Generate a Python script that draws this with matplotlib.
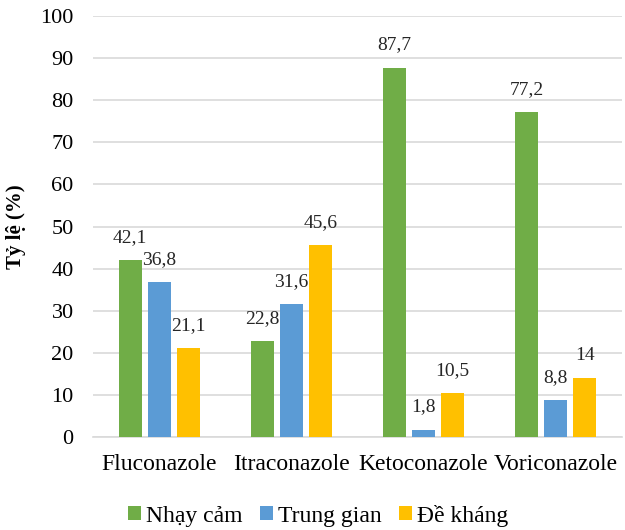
import numpy as np
import matplotlib.pyplot as plt

plt.rcParams["font.family"] = ["Liberation Serif", "DejaVu Serif"]

drugs = ["Fluconazole", "Itraconazole", "Ketoconazole", "Voriconazole"]
series_names = ["Nhạy cảm", "Trung gian", "Đề kháng"]
nhay_cam = [42.1, 22.8, 87.7, 77.2]
trung_gian = [36.8, 31.6, 1.8, 8.8]
de_khang = [21.1, 45.6, 10.5, 14]
colors = ["#70AD47", "#5B9BD5", "#FFC000"]


def fmt_vn(v):
    s = f"{v:g}"
    return s.replace(".", ",")


fig = plt.figure(figsize=(6.25, 5.30), dpi=100)
ax = fig.add_axes([0.149, 0.175, 0.846, 0.795])

x = np.arange(len(drugs))
width = 0.175
step = 0.22
for i, (vals, name, col) in enumerate(zip([nhay_cam, trung_gian, de_khang],
                                          series_names, colors)):
    pos = x + (i - 1) * step
    ax.bar(pos, vals, width=width, color=col, label=name, zorder=3)
    for px, v in zip(pos, vals):
        # label sits ~23 px above the bar top
        ax.text(px, v + 5.4, fmt_vn(v), ha="center", va="center",
                fontsize=14, color="#262626")

ax.set_xlim(-0.5, len(drugs) - 0.5)
ax.set_ylim(0, 100)
ax.set_yticks(np.arange(0, 101, 10))
ax.set_xticks(x)
ax.set_xticklabels(drugs, fontsize=17)
ax.tick_params(axis="y", labelsize=16, length=0, pad=14)
ax.tick_params(axis="x", length=0, pad=12)
ax.grid(axis="y", color="#D9D9D9", linewidth=1.2, zorder=0)
for side in ["top", "right", "left"]:
    ax.spines[side].set_visible(False)
ax.spines["bottom"].set_color("#D9D9D9")
ax.spines["bottom"].set_linewidth(1.2)

ax.set_ylabel("Tỷ lệ (%)", fontsize=15, fontweight="bold", labelpad=10)

fig.legend(loc="center", bbox_to_anchor=(0.509, 0.027), ncol=3,
           frameon=False, fontsize=17, handlelength=0.55, handleheight=0.55,
           handletextpad=0.2, columnspacing=0.75)

fig.savefig("out.png", dpi=100)
